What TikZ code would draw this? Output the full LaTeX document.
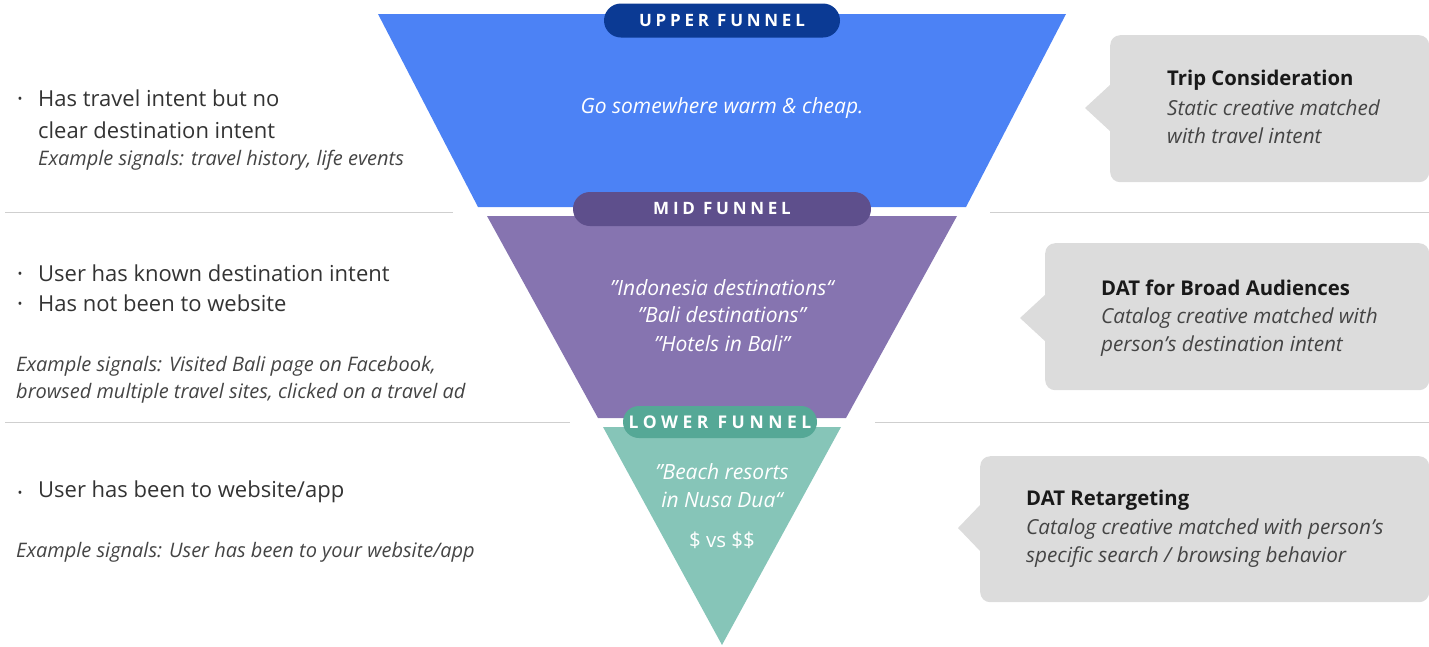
\documentclass[tikz,border=0pt]{standalone}
\usepackage{fontspec}
\setmainfont{Open Sans}
\newfontfamily\pillfont[LetterSpace=22]{Open Sans}
\definecolor{upperc}{HTML}{4C82F5}
\definecolor{upperd}{HTML}{0B3A94}
\definecolor{midc}{HTML}{8674B0}
\definecolor{midd}{HTML}{5E4F8C}
\definecolor{lowc}{HTML}{86C5B8}
\definecolor{lowd}{HTML}{55A896}
\definecolor{boxc}{HTML}{DCDCDC}
\definecolor{rulec}{HTML}{CFCFCF}
\definecolor{txt}{HTML}{333333}
\definecolor{itx}{HTML}{444444}
\begin{document}
\begin{tikzpicture}[x=1pt,y=-1pt,
  pill/.style={rounded corners=17pt,inner sep=0pt,text=white,font=\pillfont\bfseries\fontsize{17}{19}\selectfont},
  lefttext/.style={anchor=west,inner sep=0pt,text=txt,font=\fontsize{22}{26}\selectfont},
  leftex/.style={anchor=west,inner sep=0pt,text=itx,font=\itshape\fontsize{20}{24}\selectfont},
  bul/.style={anchor=center,inner sep=0pt,text=txt,font=\fontsize{13}{15}\selectfont},
  funtext/.style={anchor=center,inner sep=0pt,text=white,font=\itshape\fontsize{21}{25}\selectfont},
  boxtitle/.style={anchor=west,inner sep=0pt,text=black!90,font=\bfseries\fontsize{20.3}{24}\selectfont},
  boxtext/.style={anchor=west,inner sep=0pt,text=itx,font=\itshape\fontsize{20.7}{24}\selectfont},
  callbox/.style={fill=boxc,rounded corners=10pt,inner sep=0pt,anchor=north west},
  rule/.style={draw=rulec,line width=1pt}]
\useasboundingbox (0,0) rectangle (1429,646);
% separator lines
\coordinate (r1a) at (5,212); \coordinate (r1b) at (453,212);
\coordinate (r1c) at (990,212); \coordinate (r1d) at (1429,212);
\coordinate (r2a) at (5,422); \coordinate (r2b) at (570,422);
\coordinate (r2c) at (875,422); \coordinate (r2d) at (1429,422);
\draw[rule] (r1a) -- (r1b); \draw[rule] (r1c) -- (r1d);
\draw[rule] (r2a) -- (r2b); \draw[rule] (r2c) -- (r2d);
% funnel
\fill[upperc] (378,14) -- (1066,14) -- (966,207) -- (478,207) -- cycle;
\fill[midc] (487,216) -- (957,216) -- (846,418) -- (598,418) -- cycle;
\fill[lowc] (603,427) -- (841,427) -- (722,645) -- cycle;
% pills
\node[pill,fill=upperd,minimum width=236pt,minimum height=34pt] (up) at (722,20.5) {UPPER FUNNEL};
\node[pill,fill=midd,minimum width=298pt,minimum height=34pt] (mid) at (722,209) {MID FUNNEL};
\node[pill,fill=lowd,minimum width=194pt,minimum height=32pt,rounded corners=16pt,font=\pillfont\bfseries\fontsize{17.5}{19}\selectfont\addfontfeature{LetterSpace=26}] (low) at (720,422) {LOWER FUNNEL};
% funnel texts
\node[funtext] (ut) at (722,108) {Go somewhere warm \& cheap.};
\node[funtext] (m1) at (722,288) {"Indonesia destinations“};
\node[funtext] (m2) at (722,315) {"Bali destinations"};
\node[funtext] (m3) at (722,344) {"Hotels in Bali"};
\node[funtext] (l1) at (722,472) {"Beach resorts};
\node[funtext] (l2) at (722,500) {in Nusa Dua“};
\node[funtext,font=\fontsize{20.5}{23}\selectfont] (l3) at (722,540) {\$ vs \$\$};
% left texts
\node[bul] (b1) at (20,100) {•};
\node[lefttext] (a1) at (38,98) {Has travel intent but no};
\node[lefttext] (a2) at (38,130) {clear destination intent};
\node[leftex] (a3) at (38,160) {Example signals: travel history, life events};
\node[bul] (b2) at (20,275) {•};
\node[lefttext] (c1) at (38,273) {User has known destination intent};
\node[bul] (b3) at (20,305) {•};
\node[lefttext] (c2) at (38,303) {Has not been to website};
\node[leftex] (c3) at (16,366) {Example signals: Visited Bali page on Facebook,};
\node[leftex] (c4) at (16,393) {browsed multiple travel sites, clicked on a travel ad};
\node[bul] (b4) at (20,494) {•};
\node[lefttext] (d1) at (38,492) {User has been to website/app};
\node[leftex] (d2) at (16,552) {Example signals: User has been to your website/app};
% callouts
\node[callbox,minimum width=319pt,minimum height=147pt] (k1) at (1110,35) {};
\fill[boxc] (1111,84) -- (1085,108) -- (1111,132) -- cycle;
\node[boxtitle] (k1t) at (1167,80) {Trip Consideration};
\node[boxtext] (k1a) at (1167,108) {Static creative matched};
\node[boxtext] (k1b) at (1167,136) {with travel intent};
\node[callbox,minimum width=384pt,minimum height=147pt] (k2) at (1045,243) {};
\fill[boxc] (1046,294) -- (1020,318) -- (1046,342) -- cycle;
\node[boxtitle] (k2t) at (1101,288) {DAT for Broad Audiences};
\node[boxtext] (k2a) at (1101,318) {Catalog creative matched with};
\node[boxtext] (k2b) at (1101,346) {person’s destination intent};
\node[callbox,minimum width=449pt,minimum height=146pt] (k3) at (980,456) {};
\fill[boxc] (981,504) -- (958,528) -- (981,552) -- cycle;
\node[boxtitle] (k3t) at (1026,500) {DAT Retargeting};
\node[boxtext] (k3a) at (1026,529) {Catalog creative matched with person’s};
\node[boxtext] (k3b) at (1026,557) {specific search / browsing behavior};
\end{tikzpicture}
\end{document}
